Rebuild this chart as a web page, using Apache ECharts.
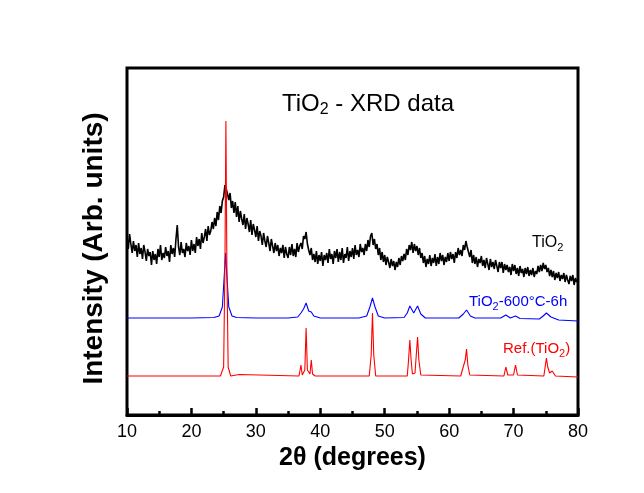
<!DOCTYPE html>
<html>
<head>
<meta charset="utf-8">
<script src="https://cdn.jsdelivr.net/npm/echarts@6/dist/echarts.min.js"></script>
<style>html,body{margin:0;padding:0;background:#fff}#c{width:644px;height:493px}</style>
</head>
<body>
<div id="c"></div>
<script>
// x-axis ticks (2θ, degrees)
var xTicks = [10, 20, 30, 40, 50, 60, 70, 80];
// Series labels
var seriesNames = ['TiO2', 'TiO2-600°C-6h', 'Ref.(TiO2)'];
// Black: as-prepared TiO2 (noisy) [2θ, intensity a.u.]
var tio2 = [
[10,178],[10.2,166],[10.4,181],[10.6,171],[10.8,162],
[11,174],[11.2,164],[11.4,170],[11.6,158],[11.8,172],
[12,161],[12.2,167],[12.4,156],[12.6,170],[12.8,163],
[13,154],[13.2,166],[13.4,159],[13.6,163],[13.8,150],
[14,164],[14.2,155],[14.4,161],[14.6,151],[14.8,166],
[15,158],[15.2,170],[15.4,155],[15.6,162],[15.8,157],
[16,168],[16.2,159],[16.4,164],[16.6,153],[16.8,170],
[17,161],[17.2,167],[17.4,158],[17.6,176],[17.8,190],
[18,168],[18.2,160],[18.4,173],[18.6,162],[18.8,166],
[19,158],[19.2,172],[19.4,164],[19.6,169],[19.8,160],
[20,175],[20.2,164],[20.4,171],[20.6,162],[20.8,178],
[21,169],[21.2,176],[21.4,166],[21.6,182],[21.8,172],
[22,178],[22.2,186],[22.4,174],[22.6,189],[22.8,180],
[23,184],[23.2,193],[23.4,186],[23.6,197],[23.8,189],
[24,203],[24.2,195],[24.4,209],[24.6,202],[24.8,214],
[25,218],[25.2,230],[25.4,226],[25.6,221],[25.8,215],
[26,222],[26.2,207],[26.4,214],[26.6,202],[26.8,213],
[27,198],[27.2,209],[27.4,193],[27.6,204],[27.8,196],
[28,190],[28.2,201],[28.4,186],[28.6,197],[28.8,191],
[29,183],[29.2,195],[29.4,180],[29.6,191],[29.8,185],
[30,178],[30.2,189],[30.4,174],[30.6,184],[30.8,179],
[31,170],[31.2,182],[31.4,174],[31.6,168],[31.8,179],
[32,172],[32.2,164],[32.4,176],[32.6,169],[32.8,162],
[33,172],[33.2,164],[33.4,170],[33.6,159],[33.8,167],
[34,162],[34.2,170],[34.4,157],[34.6,168],[34.8,161],
[35,157],[35.2,168],[35.4,160],[35.6,171],[35.8,159],
[36,166],[36.2,158],[36.4,172],[36.6,163],[36.8,169],
[37,172],[37.2,166],[37.4,179],[37.6,176],[37.8,183],
[38,171],[38.2,165],[38.4,160],[38.6,167],[38.8,155],
[39,161],[39.2,153],[39.4,164],[39.6,151],[39.8,160],
[40,154],[40.2,163],[40.4,149],[40.6,160],[40.8,155],
[41,162],[41.2,152],[41.4,166],[41.6,156],[41.8,161],
[42,151],[42.2,164],[42.4,157],[42.6,166],[42.8,153],
[43,163],[43.2,155],[43.4,167],[43.6,152],[43.8,161],
[44,157],[44.2,168],[44.4,154],[44.6,164],[44.8,158],
[45,167],[45.2,156],[45.4,170],[45.6,160],[45.8,165],
[46,158],[46.2,171],[46.4,163],[46.6,167],[46.8,160],
[47,171],[47.2,164],[47.4,175],[47.6,168],[47.8,179],
[48,182],[48.2,170],[48.4,176],[48.6,166],[48.8,171],
[49,160],[49.2,167],[49.4,155],[49.6,163],[49.8,153],
[50,160],[50.2,150],[50.4,158],[50.6,153],[50.8,147],
[51,156],[51.2,149],[51.4,154],[51.6,145],[51.8,153],
[52,148],[52.2,157],[52.4,150],[52.6,159],[52.8,154],
[53,161],[53.2,155],[53.4,166],[53.6,160],[53.8,170],
[54,165],[54.2,173],[54.4,162],[54.6,171],[54.8,164],
[55,169],[55.2,160],[55.4,167],[55.6,157],[55.8,162],
[56,152],[56.2,159],[56.4,148],[56.6,156],[56.8,151],
[57,160],[57.2,149],[57.4,157],[57.6,152],[57.8,161],
[58,149],[58.2,158],[58.4,151],[58.6,162],[58.8,154],
[59,160],[59.2,150],[59.4,158],[59.6,153],[59.8,162],
[60,154],[60.2,163],[60.4,156],[60.6,161],[60.8,152],
[61,163],[61.2,157],[61.4,167],[61.6,160],[61.8,165],
[62,159],[62.2,170],[62.4,165],[62.6,174],[62.8,168],
[63,163],[63.2,158],[63.4,165],[63.6,152],[63.8,160],
[64,151],[64.2,158],[64.4,148],[64.6,156],[64.8,152],
[65,159],[65.2,149],[65.4,155],[65.6,147],[65.8,157],
[66,151],[66.2,145],[66.4,156],[66.6,148],[66.8,153],
[67,146],[67.2,155],[67.4,149],[67.6,143],[67.8,153],
[68,147],[68.2,153],[68.4,142],[68.6,151],[68.8,145],
[69,150],[69.2,143],[69.4,148],[69.6,140],[69.8,151],
[70,144],[70.2,150],[70.4,141],[70.6,147],[70.8,139],
[71,149],[71.2,142],[71.4,146],[71.6,138],[71.8,147],
[72,141],[72.2,148],[72.4,139],[72.6,145],[72.8,140],
[73,147],[73.2,138],[73.4,144],[73.6,141],[73.8,149],
[74,143],[74.2,150],[74.4,144],[74.6,152],[74.8,146],
[75,150],[75.2,143],[75.4,147],[75.6,139],[75.8,145],
[76,138],[76.2,144],[76.4,135],[76.6,142],[76.8,137],
[77,143],[77.2,134],[77.4,140],[77.6,136],[77.8,142],
[78,133],[78.2,140],[78.4,135],[78.6,131],[78.8,139],
[79,134],[79.2,140],[79.4,130],[79.6,137],[79.8,133],
[80,136]
];
// Blue: TiO2 annealed 600°C, 6 h
var tio2_600 = [
[10,97],[20,97],[23.5,97.5],[24.3,99],[24.8,108],[25.1,140],[25.3,162],[25.5,140],[25.8,108],[26.3,99],[27,97.5],
[30,97],[35,97],[36.5,98],[37.0,102],[37.4,106],[37.8,112],[38.2,104],[38.6,103],[39.0,99],[40,97],
[46,97],[47.2,99],[47.7,108],[48.1,117],[48.5,108],[49,99],[50,97],
[53,97.5],[53.5,102],[53.9,109],[54.5,102],[55.1,109],[55.6,101],[56.3,97],
[61.5,97],[62.2,101],[62.7,105],[63.3,99],[64,97],
[68,97],[68.8,100],[69.5,97],[70.3,99],[71,96.5],
[74,96],[74.6,99],[75.1,102],[75.8,98],[77,95],[80,94]
];
// Red: reference pattern (anatase TiO2)
var refTiO2 = [
[10,39],[24.5,39],[25.0,48],[25.2,150],[25.35,294],[25.5,150],[25.7,48],[26.1,39],[27.4,40.5],[27.6,39],
[36.7,39],[37.0,50],[37.2,40],[37.6,45],[37.8,87],[38.0,45],[38.4,41],[38.6,55],[38.8,41],[39.2,39],
[47.6,39],[47.9,60],[48.1,102],[48.3,60],[48.6,39],
[53.5,39],[53.7,55],[53.9,75],[54.1,55],[54.3,41],[54.7,42],[54.9,60],[55.1,78],[55.3,55],[55.6,40],
[61.8,39],[62.05,45],[62.2,43],[62.5,55],[62.7,66],[62.9,50],[63.2,40],
[68.5,39],[68.8,48],[69.1,40],[70.0,40],[70.3,50],[70.6,40],
[74.7,39],[74.9,48],[75.1,57],[75.3,48],[75.6,42],[76.0,44],[76.2,43],[76.5,39],[80,38]
];

var FONT = '"Liberation Sans", Arial, sans-serif';
var chart = echarts.init(document.getElementById('c'), null, {renderer: 'canvas'});
function sub(color, big, small, pad) {
  return {
    fontFamily: FONT, fontWeight: 'normal', color: color,
    rich: {
      n: {fontSize: big, fontFamily: FONT, fontWeight: 'normal', color: color},
      s: {fontSize: small, fontFamily: FONT, fontWeight: 'normal', color: color, padding: [pad, 0, 0, 0]}
    }
  };
}

chart.setOption({
  animation: false,
  backgroundColor: '#fff',
  title: [
    {text: '{n|TiO}{s|2}{n| - XRD data}', left: 282, top: 90, padding: 0, textStyle: sub('#000', 24, 16, 12)},
    {text: '{n|TiO}{s|2}', left: 532, top: 233, padding: 0, textStyle: sub('#000', 16, 11, 9)},
    {text: '{n|TiO}{s|2}{n|-600°C-6h}', left: 469, top: 292, padding: 0, textStyle: sub('#0000ff', 15, 11, 9)},
    {text: '{n|Ref.(TiO}{s|2}{n|)}', left: 503, top: 339, padding: 0, textStyle: sub('#ff0000', 15, 11, 9)}
  ],
  grid: {left: 127, right: 66, top: 68, bottom: 78, show: true, borderColor: '#000', borderWidth: 3, backgroundColor: 'transparent'},
  xAxis: {
    type: 'value', min: xTicks[0], max: xTicks[xTicks.length - 1], interval: 10,
    name: '2θ (degrees)', nameLocation: 'middle', nameGap: 28,
    nameTextStyle: {fontFamily: FONT, fontWeight: 'bold', fontSize: 25, color: '#000'},
    axisLine: {show: true, lineStyle: {color: '#000', width: 3}},
    axisTick: {show: true, inside: true, length: 7, lineStyle: {color: '#000', width: 2.5}},
    minorTick: {show: true, splitNumber: 2, length: 4, lineStyle: {color: '#000', width: 2.5}},
    axisLabel: {fontFamily: FONT, fontSize: 18, color: '#000', margin: 8},
    splitLine: {show: false}
  },
  yAxis: {
    type: 'value', min: 0, max: 347,
    name: 'Intensity (Arb. units)', nameLocation: 'middle', nameGap: 19, nameRotate: 90,
    nameTextStyle: {fontFamily: FONT, fontWeight: 'bold', fontSize: 28, color: '#000', padding: [0, 14, 0, 0]},
    axisLine: {show: false}, axisTick: {show: false}, axisLabel: {show: false}, splitLine: {show: false}
  },
  series: [
    {name: seriesNames[0], type: 'line', data: tio2, showSymbol: false, lineStyle: {color: '#000', width: 1.6}, z: 2},
    {name: seriesNames[1], type: 'line', data: tio2_600, showSymbol: false, lineStyle: {color: '#0000ff', width: 1.1}, z: 3},
    {name: seriesNames[2], type: 'line', data: refTiO2, showSymbol: false, lineStyle: {color: '#ff0000', width: 1.1}, z: 4}
  ]
});
</script>
</body>
</html>
